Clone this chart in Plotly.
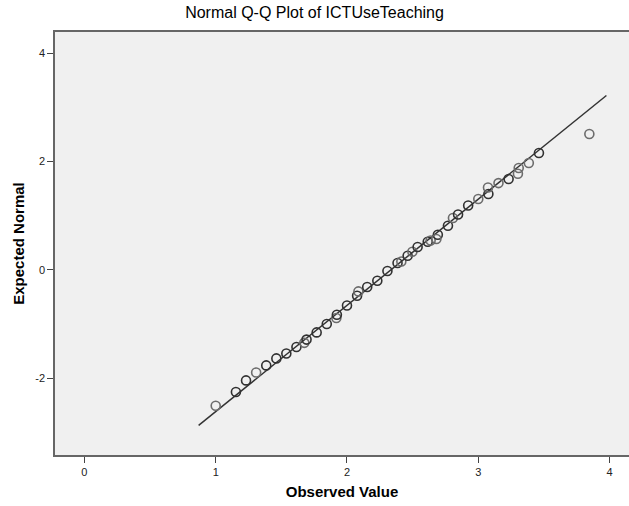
import plotly.graph_objects as go

# Observed values (distinct) and their expected normal quantiles
observed = [1.000, 1.154, 1.231, 1.308, 1.385, 1.462, 1.538, 1.615, 1.675, 1.692,
            1.769, 1.846, 1.919, 1.923, 2.000, 2.077, 2.087, 2.154, 2.231, 2.308,
            2.385, 2.414, 2.462, 2.498, 2.538, 2.615, 2.637, 2.692, 2.681, 2.769,
            2.807, 2.846, 2.923, 3.000, 3.077, 3.074, 3.154, 3.231, 3.302, 3.308,
            3.385, 3.462, 3.846]
expected = [-2.51, -2.258, -2.043, -1.896, -1.766, -1.637, -1.545, -1.427, -1.35, -1.29,
            -1.157, -1.002, -0.892, -0.831, -0.659, -0.480, -0.40, -0.319, -0.203, -0.024,
            0.124, 0.153, 0.258, 0.332, 0.419, 0.517, 0.541, 0.646, 0.567, 0.812,
            0.954, 1.021, 1.187, 1.305, 1.397, 1.519, 1.600, 1.674, 1.772, 1.877,
            1.970, 2.154, 2.505]
# number of cases drawn at each point (overlapping draws look darker)
cases = [1, 2, 2, 1, 2, 2, 2, 2, 1, 2,
         2, 2, 1, 2, 2, 2, 1, 2, 2, 2,
         2, 1, 2, 1, 2, 2, 1, 2, 1, 2,
         1, 2, 2, 1, 2, 1, 1, 2, 1, 1,
         1, 2, 1]

# reference line parameters
mean_val = 2.3356
sd_val = 0.510
line_x = [0.870, 3.976]

x_ticks = [0, 1, 2, 3, 4]
x_labels = ["0", "1", "2", "3", "4"]
y_ticks = [-2, 0, 2, 4]
y_labels = ["-2", "0", "2", "4"]

def case_color(n, a=0.55):
    alpha = 1 - (1 - a) ** n
    g = int(round(240 * (1 - alpha)))
    return f"rgb({g},{g},{g})"

line_y = [(v - mean_val) / sd_val for v in line_x]

FONT = "Liberation Sans, Arial, sans-serif"

fig = go.Figure()
fig.add_trace(go.Scatter(x=line_x, y=line_y, mode="lines",
                         line=dict(color="#333333", width=1.5),
                         hoverinfo="skip", showlegend=False))
fig.add_trace(go.Scatter(x=observed, y=expected, mode="markers",
                         marker=dict(symbol="circle-open", size=9,
                                     color=[case_color(n) for n in cases],
                                     line=dict(width=1.6)),
                         showlegend=False))

axis_font = dict(family=FONT, size=11, color="#222222")
fig.update_layout(
    width=629, height=506,
    margin=dict(l=55, r=0, t=32, b=51),
    paper_bgcolor="white",
    plot_bgcolor="#F0F0F0",
    title=dict(text="Normal Q-Q Plot of ICTUseTeaching", x=0.5, xref="container",
               xanchor="center", y=0.976, yanchor="middle",
               font=dict(family=FONT, size=16, color="black")),
    xaxis=dict(range=[-0.224, 4.148], tickvals=x_ticks, ticktext=x_labels,
               showgrid=False, zeroline=False,
               ticks="outside", ticklen=6, tickcolor="#444444", tickwidth=1,
               showline=True, linecolor="#666666", linewidth=1.5, mirror=True,
               tickfont=axis_font,
               title=dict(text="<b>Observed Value</b>", standoff=10,
                          font=dict(family=FONT, size=15, color="black"))),
    yaxis=dict(range=[-3.42, 4.389], tickvals=y_ticks, ticktext=y_labels,
               showgrid=False, zeroline=False,
               ticks="outside", ticklen=6, tickcolor="#444444", tickwidth=1,
               showline=True, linecolor="#666666", linewidth=1.5, mirror=False,
               tickfont=axis_font,
               title=dict(text="<b>Expected Normal</b>", standoff=7,
                          font=dict(family=FONT, size=15, color="black"))),
)

fig.write_html("out.html")
